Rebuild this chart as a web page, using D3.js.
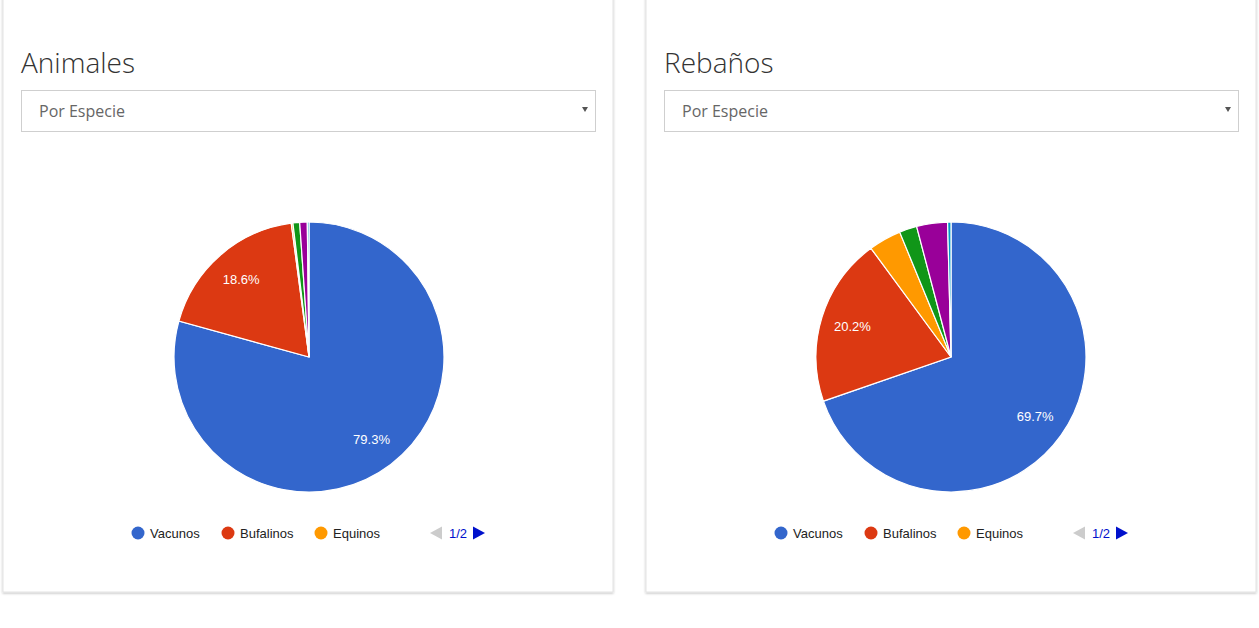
<!DOCTYPE html>
<html>
<head>
<meta charset="utf-8">
<script src="https://cdn.jsdelivr.net/npm/d3@7"></script>
<style>
  html, body { margin: 0; padding: 0; background: #fff; }
  svg { display: block; }
</style>
</head>
<body>
<svg id="chart" width="1259" height="628"></svg>
<script>
// ---- data ----
const species = ["Vacunos", "Bufalinos", "Equinos", "Ovinos", "Caprinos", "Porcinos"];
const animalesValues = [79.3, 18.6, 0.2, 0.8, 0.9, 0.2];
const rebanosValues = [69.7, 20.2, 3.9, 2.1, 3.7, 0.4];
const colors = ["#3366cc", "#dc3912", "#ff9900", "#109618", "#990099", "#0099c6"];
const titles = ["Animales", "Rebaños"];
const selectLabel = "Por Especie";
const pageLabel = "1/2";
const legendShown = 3;

const svg = d3.select("#chart");
const defs = svg.append("defs");
const f = defs.append("filter").attr("id", "shadow").attr("x", "-5%").attr("y", "-5%").attr("width", "110%").attr("height", "110%");
f.append("feDropShadow").attr("dx", 0).attr("dy", 1).attr("stdDeviation", 1.3).attr("flood-color", "#000").attr("flood-opacity", 0.25);

const color = d3.scaleOrdinal().domain(species).range(colors);
const panels = [
  { title: titles[0], values: animalesValues, x0: 3 },
  { title: titles[1], values: rebanosValues, x0: 646 }
];

const cardW = 610, radius = 135;
const pie = d3.pie().sort(null).value(d => d.v);
const arc = d3.arc().innerRadius(0).outerRadius(radius);
const labelArc = d3.arc().innerRadius(radius * 0.765).outerRadius(radius * 0.765);

panels.forEach(p => {
  const g = svg.append("g").attr("transform", `translate(${p.x0},0)`);
  // card
  g.append("rect").attr("x", 0).attr("y", -10).attr("width", cardW).attr("height", 602)
    .attr("fill", "#fff").attr("stroke", "#e3e3e3").attr("stroke-width", 1).attr("filter", "url(#shadow)");
  // title
  g.append("text").attr("x", 18).attr("y", 73).text(p.title)
    .attr("font-family", "'Open Sans', sans-serif").attr("font-weight", 300)
    .attr("font-size", 28).attr("fill", "#333");
  // select box
  g.append("rect").attr("x", 18.5).attr("y", 90.5).attr("width", 574).attr("height", 41)
    .attr("fill", "#fff").attr("stroke", "#cfcfcf");
  g.append("text").attr("x", 36).attr("y", 117).text(selectLabel)
    .attr("font-family", "'Open Sans', sans-serif").attr("font-size", 16).attr("fill", "#666");
  g.append("path").attr("d", "M579,107 L585,107 L582,112 Z").attr("fill", "#555");

  // pie
  const data = species.map((s, i) => ({ s, v: p.values[i] }));
  const cx = p.x0 === 3 ? 306 : 305;
  const pg = g.append("g").attr("transform", `translate(${cx},357)`);
  const arcs = pie(data);
  pg.selectAll("path").data(arcs).join("path")
    .attr("d", arc).attr("fill", d => color(d.data.s))
    .attr("stroke", "#fff").attr("stroke-width", 1.2);
  pg.selectAll("text").data(arcs.filter(d => d.data.v > 5)).join("text")
    .attr("transform", d => `translate(${labelArc.centroid(d)})`)
    .attr("text-anchor", "middle").attr("dy", "0.35em")
    .attr("font-family", "Arial, 'Liberation Sans', sans-serif").attr("font-size", 13)
    .attr("fill", "#fff").text(d => d.data.v.toFixed(1) + "%");

  // legend
  const lg = g.append("g").attr("transform", "translate(0,533)");
  const legX = [135, 225, 318];
  species.slice(0, legendShown).forEach((s, i) => {
    lg.append("circle").attr("cx", legX[i]).attr("cy", 0).attr("r", 6.5).attr("fill", color(s));
    lg.append("text").attr("x", legX[i] + 12).attr("y", 0).attr("dy", "0.35em").text(s)
      .attr("font-family", "Arial, 'Liberation Sans', sans-serif").attr("font-size", 13).attr("fill", "#222");
  });
  lg.append("path").attr("d", "M427,0 L439,-6.5 L439,6.5 Z").attr("fill", "#cccccc");
  lg.append("text").attr("x", 455).attr("y", 0).attr("dy", "0.35em").attr("text-anchor", "middle").text(pageLabel)
    .attr("font-family", "Arial, 'Liberation Sans', sans-serif").attr("font-size", 13).attr("fill", "#0011cc");
  lg.append("path").attr("d", "M482,0 L470,-6.5 L470,6.5 Z").attr("fill", "#0011cc");
});
</script>
</body>
</html>
